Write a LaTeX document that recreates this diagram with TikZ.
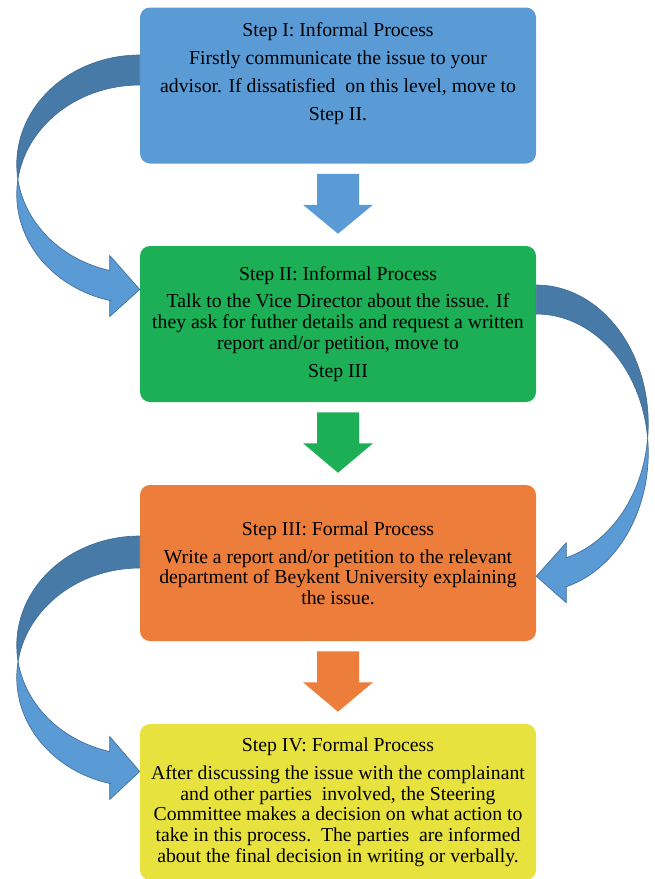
\documentclass[tikz,border=0pt]{standalone}
\usepackage{fontspec}
\setmainfont{Liberation Serif}
\usetikzlibrary{calc}
\definecolor{stepblue}{RGB}{91,155,213}
\definecolor{stepgreen}{RGB}{29,175,85}
\definecolor{steporange}{RGB}{236,125,59}
\definecolor{stepyellow}{RGB}{232,226,62}
\definecolor{bandfront}{RGB}{91,155,213}
\definecolor{bandback}{RGB}{71,122,167}
\definecolor{bandline}{RGB}{65,110,150}

% straight block arrow from one box down to the next
\newcommand{\stepdown}[3]{%
  \fill[#3] ($(#1.south)+(-21,10)$) -- ($(#1.south)+(21,10)$) -- ($(#1.south)+(21,41)$)
    -- ($(#1.south)+(35,41)$) -- ($(#2.north)+(0,-12)$) -- ($(#1.south)+(-35,41)$)
    -- ($(#1.south)+(-21,41)$) -- cycle;}
% curved ribbon arrow: start point, side (-1 left, 1 right), rx, ry, thickness, target side
\newcommand{\bendarrow}[6]{%
  \pgfmathsetmacro{\phione}{acos(-#5/(2*#4))}
  \pgfmathsetmacro{\phitwo}{180-\phione}
  \pgfmathsetmacro{\phihead}{180-asin(30/#3)}
  \pgfmathsetmacro{\yin}{#4-#4*cos(\phihead)}
  \pgfmathsetmacro{\yout}{\yin+#5}
  \begin{scope}[shift={(#1)}]
    \filldraw[fill=bandback,draw=bandline,line width=0.5pt]
      plot[domain=0:\phione,samples=40] ({#2*#3*sin(\x)},{#4-#4*cos(\x)})
      -- plot[domain=\phitwo:0,samples=40] ({#2*#3*sin(\x)},{#4+#5-#4*cos(\x)}) -- cycle;
    \filldraw[fill=bandfront,draw=bandline,line width=0.5pt]
      plot[domain=\phione:\phihead,samples=40] ({#2*#3*sin(\x)},{#4-#4*cos(\x)})
      -- (#2*30,\yin-15) -- (#6 |- 0,{(\yin+\yout)/2+4}) -- (#2*30,\yout+16) -- (#2*30,\yout)
      -- plot[domain=\phihead:\phitwo,samples=40] ({#2*#3*sin(\x)},{#4+#5-#4*cos(\x)}) -- cycle;
  \end{scope}}

\begin{document}
\begin{tikzpicture}[x=0.75pt,y=-0.75pt,
  stepbox/.style={rectangle,rounded corners=7.5pt,minimum width=297pt,minimum height=117pt,
    inner sep=0pt,align=center,font=\fontsize{14.8}{15.5}\selectfont}]
\useasboundingbox (0,0) rectangle (654,879);
\node[stepbox,fill=stepblue,font=\fontsize{14.8}{21}\selectfont] (s1) at (338,85.5)
  {Step I: Informal Process\\ Firstly communicate the issue to your\\
   advisor. If dissatisfied\ \ on this level, move to\\ Step II.\\ \mbox{}};
\node[stepbox,fill=stepgreen] (s2) at (338,324)
  {Step II: Informal Process\\[5pt] Talk to the Vice Director about the issue. If\\
   they ask for futher details and request a written\\ report and/or petition, move to\\[5.5pt] Step III};
\node[stepbox,fill=steporange] (s3) at (338,563)
  {Step III: Formal Process\\[5.5pt] Write a report and/or petition to the relevant\\
   department of Beykent University explaining\\ the issue.};
\node[stepbox,fill=stepyellow] (s4) at (338,802)
  {Step IV: Formal Process\\[5.5pt] After discussing the issue with the complainant\\
   and other parties\ \ involved, the Steering\\ Committee makes a decision on what action to\\
   take in this process.\ \ The parties\ \ are informed\\ about the final decision in writing or verbally.};
% arrows between the steps
\stepdown{s1}{s2}{stepblue}
\stepdown{s2}{s3}{stepgreen}
\stepdown{s3}{s4}{steporange}
\bendarrow{$(s1.west)+(0,-30.5)$}{-1}{123}{109.4}{30}{s2.west}
\bendarrow{$(s2.east)+(0,-39)$}{1}{112}{138.9}{29}{s3.east}
\bendarrow{$(s3.west)+(0,-27)$}{-1}{123}{109.4}{32}{s4.west}
\end{tikzpicture}
\end{document}
